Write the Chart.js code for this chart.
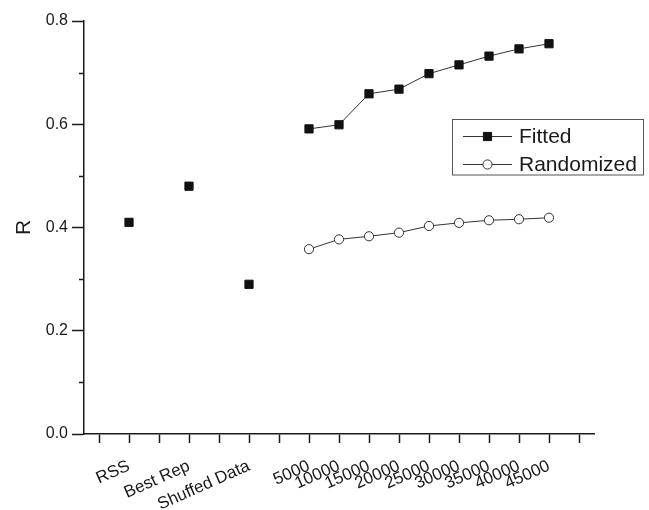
<!DOCTYPE html>
<html>
<head>
<meta charset="utf-8">
<script src="https://cdn.jsdelivr.net/npm/chart.js@4/dist/chart.umd.min.js"></script>
<style>
  html, body { margin: 0; padding: 0; background: #fff; }
  #wrap { width: 649px; height: 510px; position: relative; }
</style>
</head>
<body>
<div id="wrap"><canvas id="c" width="649" height="510"></canvas></div>
<script>
// ---- data ----
const categories = ['', 'RSS', '', 'Best Rep', '', 'Shuffed Data', '',
  '5000', '10000', '15000', '20000', '25000', '30000', '35000', '40000', '45000', ''];
const baselineValues = [null, 0.410, null, 0.480, null, 0.290, null,
  null, null, null, null, null, null, null, null, null, null];
const fittedValues = [null, null, null, null, null, null, null,
  0.591, 0.599, 0.659, 0.668, 0.698, 0.715, 0.732, 0.746, 0.756, null];
const randomizedValues = [null, null, null, null, null, null, null,
  0.358, 0.377, 0.383, 0.390, 0.403, 0.409, 0.414, 0.416, 0.419, null];
const yTickValues = [0, 0.2, 0.4, 0.6, 0.8];
const yMinorTickValues = [0.1, 0.3, 0.5, 0.7];
const legendLabels = ['Fitted', 'Randomized'];

const FONT = "'Liberation Sans', Arial, sans-serif";
const INK = '#1a1a1a';

const minorTicks = {
  id: 'minorTicks',
  afterDraw(chart) {
    const y = chart.scales.y;
    const ctx = chart.ctx;
    ctx.save();
    ctx.strokeStyle = INK;
    ctx.lineWidth = 1.5;
    yMinorTickValues.forEach(v => {
      const py = Math.round(y.getPixelForValue(v)) + 0.5;
      ctx.beginPath();
      ctx.moveTo(chart.chartArea.left - 5, py);
      ctx.lineTo(chart.chartArea.left, py);
      ctx.stroke();
    });
    ctx.restore();
  }
};

const boxLegend = {
  id: 'boxLegend',
  afterDraw(chart) {
    const ctx = chart.ctx;
    ctx.save();
    const bx = 452.5, by = 119.5, bw = 191, bh = 55.5;
    ctx.strokeStyle = '#555';
    ctx.lineWidth = 1;
    ctx.strokeRect(bx, by, bw, bh);
    const rows = [136, 164];
    [0, 1].forEach(i => {
      const ds = chart.data.datasets[i];
      const ly = rows[i] + 0.5;
      ctx.strokeStyle = ds.borderColor;
      ctx.lineWidth = 1;
      ctx.beginPath();
      ctx.moveTo(463, ly);
      ctx.lineTo(512, ly);
      ctx.stroke();
      ctx.fillStyle = ds.pointBackgroundColor;
      ctx.strokeStyle = ds.pointBorderColor;
      ctx.lineWidth = ds.pointBorderWidth;
      ctx.beginPath();
      Chart.helpers.drawPoint(ctx, {
        pointStyle: ds.pointStyle,
        radius: ds.pointRadius,
        borderWidth: ds.pointBorderWidth,
        rotation: 0
      }, 487.5, ly);
      ctx.fillStyle = INK;
      ctx.font = '21px ' + FONT;
      ctx.textBaseline = 'middle';
      ctx.textAlign = 'left';
      ctx.fillText(legendLabels[i], 519, rows[i] + 1);
    });
    ctx.restore();
  }
};

new Chart(document.getElementById('c'), {
  type: 'line',
  data: {
    labels: categories,
    datasets: [
      {
        label: legendLabels[0],
        data: fittedValues,
        borderColor: '#333',
        borderWidth: 1,
        pointStyle: 'rect',
        pointRadius: 5.8,
        pointBorderWidth: 1,
        pointBackgroundColor: '#111',
        pointBorderColor: '#111',
        tension: 0
      },
      {
        label: legendLabels[1],
        data: randomizedValues,
        borderColor: '#333',
        borderWidth: 1,
        pointStyle: 'circle',
        pointRadius: 4.6,
        pointBorderWidth: 1,
        pointBackgroundColor: '#fff',
        pointBorderColor: '#333',
        tension: 0
      },
      {
        label: 'baselines',
        data: baselineValues,
        showLine: false,
        pointStyle: 'rect',
        pointRadius: 5.8,
        pointBorderWidth: 1,
        pointBackgroundColor: '#111',
        pointBorderColor: '#111'
      }
    ]
  },
  options: {
    responsive: false,
    animation: false,
    devicePixelRatio: 1,
    layout: { padding: { top: 21, right: 55, left: 0, bottom: 0 } },
    plugins: {
      legend: { display: false },
      tooltip: { enabled: false }
    },
    scales: {
      x: {
        type: 'category',
        offset: true,
        grid: {
          display: true,
          drawOnChartArea: false,
          offset: false,
          tickLength: 9,
          tickWidth: 1.5,
          tickColor: INK
        },
        border: { display: true, color: INK, width: 1.5 },
        ticks: {
          autoSkip: false,
          maxRotation: 24,
          minRotation: 24,
          padding: 13,
          color: INK,
          font: { family: FONT, size: 17 }
        },
        afterFit(scale) { scale.height = 76; }
      },
      y: {
        min: 0,
        max: 0.8,
        afterBuildTicks(scale) { scale.ticks = yTickValues.map(v => ({ value: v })); },
        grid: {
          display: true,
          drawOnChartArea: false,
          tickLength: 12,
          tickWidth: 1.5,
          tickColor: INK
        },
        border: { display: true, color: INK, width: 1.5 },
        ticks: {
          padding: 4,
          color: INK,
          font: { family: FONT, size: 16 },
          callback: v => Number(v).toFixed(1)
        },
        title: {
          display: true,
          text: 'R',
          color: INK,
          font: { family: FONT, size: 21 },
          padding: { top: 12, bottom: 0 }
        },
        afterFit(scale) { scale.width = 84; }
      }
    }
  },
  plugins: [minorTicks, boxLegend]
});
</script>
</body>
</html>
